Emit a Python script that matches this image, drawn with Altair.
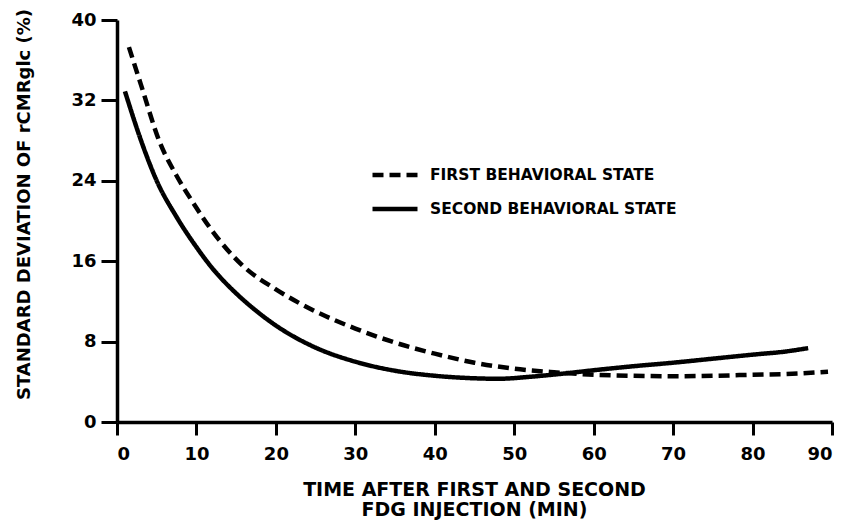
import altair as alt
import pandas as pd

# Standard deviation of rCMRglc (%) versus minutes after each FDG injection
first_t = [1.5, 3, 5.4, 7.5, 9.6, 12, 15.9, 20, 25, 30, 35, 40, 45, 50, 55, 60, 65, 70, 75, 80, 85, 89.5]
first_sd = [37.3, 33.6, 27.8, 24.5, 21.8, 19.0, 15.5, 13.2, 11.0, 9.3, 7.9, 6.8, 5.9, 5.3, 4.95, 4.7, 4.6, 4.55, 4.6, 4.7, 4.8, 5.0]

second_t = [1, 3.3, 5, 7.5, 10, 12, 15, 17, 20, 25, 30, 35, 40, 45, 48, 52, 56, 60, 65, 70, 75, 80, 84, 87]
second_sd = [32.9, 27.4, 24.0, 20.4, 17.4, 15.3, 12.8, 11.4, 9.6, 7.4, 6.0, 5.1, 4.6, 4.35, 4.3, 4.5, 4.8, 5.15, 5.55, 5.9, 6.3, 6.7, 7.0, 7.35]

series_names = ["FIRST BEHAVIORAL STATE", "SECOND BEHAVIORAL STATE"]
x_ticks = [0, 10, 20, 30, 40, 50, 60, 70, 80, 90]
y_ticks = [0, 8, 16, 24, 32, 40]

df = pd.concat([
    pd.DataFrame({"t": first_t, "sd": first_sd, "state": series_names[0]}),
    pd.DataFrame({"t": second_t, "sd": second_sd, "state": series_names[1]}),
])

FONT = "DejaVu Sans"

chart = alt.Chart(df).mark_line(
    interpolate="monotone", color="black", strokeWidth=4.5, strokeCap="butt"
).encode(
    x=alt.X(
        "t:Q",
        scale=alt.Scale(domain=[0, 90], nice=False, zero=False),
        axis=alt.Axis(
            values=x_ticks,
            tickSize=13,
            labelPadding=10,
            title=["TIME AFTER FIRST AND SECOND", "FDG INJECTION (MIN)"],
            titleFontSize=19,
            titleX=357,
            titleY=58,
            titleBaseline="top",
            titleLineHeight=20,
        ),
    ),
    y=alt.Y(
        "sd:Q",
        scale=alt.Scale(domain=[0, 40], nice=False),
        axis=alt.Axis(
            values=y_ticks,
            tickSize=16,
            labelPadding=5,
            title="STANDARD DEVIATION OF rCMRglc (%)",
            titleFontSize=18,
            titleX=-84,
            titleY=184,
            titleAlign="center",
            titleBaseline="bottom",
        ),
    ),
    strokeDash=alt.StrokeDash(
        "state:N",
        scale=alt.Scale(domain=series_names, range=[[11, 6], [1, 0]]),
        legend=alt.Legend(
            title=None,
            orient="none",
            legendX=253,
            legendY=130,
            symbolType="stroke",
            symbolSize=2025,
            symbolStrokeWidth=4.5,
            symbolStrokeColor="black",
            labelFont=FONT,
            labelFontSize=15.5,
            labelFontWeight="bold",
            labelColor="black",
            labelLimit=0,
            labelOffset=10,
            rowPadding=-5,
        ),
    ),
    detail="state:N",
).properties(
    width=715,
    height=402,
    padding={"left": 117, "top": 20, "right": 16, "bottom": 98},
    autosize=alt.AutoSizeParams(type="none"),
).configure_view(
    stroke=None
).configure_axis(
    grid=False,
    domainColor="black",
    domainWidth=3.5,
    tickColor="black",
    tickWidth=3,
    labelFont=FONT,
    labelFontSize=18,
    labelFontWeight="bold",
    labelColor="black",
    titleFont=FONT,
    titleFontWeight="bold",
    titleColor="black",
)

chart.save("out.html", embed_options={"renderer": "svg", "actions": False})
